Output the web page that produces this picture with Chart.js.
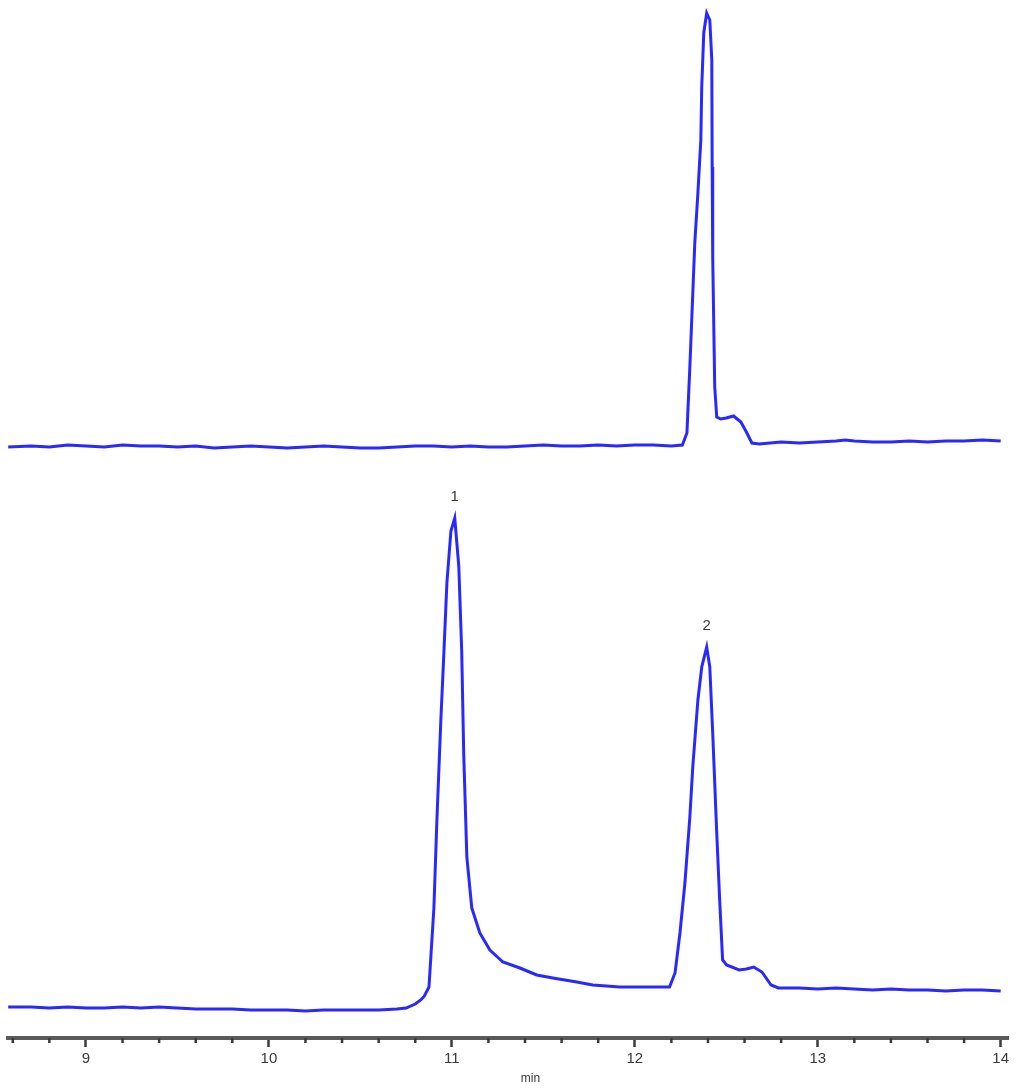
<!DOCTYPE html>
<html>
<head>
<meta charset="utf-8">
<script src="https://cdn.jsdelivr.net/npm/chart.js@4"></script>
<style>
  html, body { margin: 0; padding: 0; background: #ffffff; }
  #chromato { display: block; }
</style>
</head>
<body>
<canvas id="chromato" width="1024" height="1091"></canvas>
<script>
// Retention time (min) and detector response, two stacked runs
const topTimes = [8.575, 8.7, 8.8, 8.9, 9.0, 9.1, 9.2, 9.3, 9.4, 9.5, 9.6, 9.7, 9.8, 9.9, 10.0, 10.1, 10.2, 10.3, 10.4, 10.5,
    10.6, 10.7, 10.8, 10.9, 11.0, 11.1, 11.2, 11.3, 11.4, 11.5, 11.6, 11.7, 11.8, 11.9, 12.0, 12.1, 12.2, 12.26,
    12.285, 12.301, 12.312, 12.328, 12.345, 12.361, 12.366, 12.377, 12.393, 12.41, 12.421, 12.423, 12.426, 12.437, 12.448,
    12.47, 12.5, 12.54, 12.58, 12.61, 12.64, 12.68, 12.8, 12.9, 13.0, 13.1, 13.15, 13.2, 13.3, 13.4, 13.5, 13.6, 13.7, 13.8, 13.9, 14.0];
const topSignal = [58.9, 59.0, 58.9, 59.1, 59.0, 58.9, 59.1, 59.0, 59.0, 58.9, 59.0, 58.8, 58.9, 59.0, 58.9, 58.8, 58.9, 59.0, 58.9, 58.8,
    58.8, 58.9, 59.0, 59.0, 58.9, 59.0, 58.9, 58.9, 59.0, 59.1, 59.0, 59.0, 59.1, 59.0, 59.1, 59.1, 59.0, 59.1,
    60.3, 66.9, 71.9, 79.3, 84.3, 89.6, 94.9, 100.3, 102.3, 101.6, 97.6, 86.9, 77.9, 64.9, 61.9,
    61.7, 61.8, 62.0, 61.4, 60.4, 59.3, 59.2, 59.4, 59.3, 59.4, 59.5, 59.6, 59.5, 59.4, 59.4, 59.5, 59.4, 59.5, 59.5, 59.6, 59.5];

const bottomTimes = [8.575, 8.7, 8.8, 8.9, 9.0, 9.1, 9.2, 9.3, 9.4, 9.5, 9.6, 9.7, 9.8, 9.9, 10.0, 10.1, 10.2, 10.3, 10.4, 10.5,
    10.6, 10.7, 10.75, 10.8, 10.83, 10.85, 10.875, 10.902, 10.918, 10.94, 10.957, 10.973, 10.995, 11.016, 11.038, 11.054,
    11.065, 11.082, 11.109, 11.153, 11.208, 11.279, 11.372, 11.464, 11.552, 11.683, 11.77, 11.918, 12.0, 12.1, 12.19,
    12.22, 12.247, 12.274, 12.301, 12.317, 12.345, 12.366, 12.393, 12.41, 12.426, 12.448, 12.464, 12.48, 12.502,
    12.57, 12.61, 12.65, 12.695, 12.745, 12.785, 12.9, 13.0, 13.1, 13.2, 13.3, 13.4, 13.5, 13.6, 13.7, 13.8, 13.9, 14.0];
const bottomSignal = [2.9, 2.9, 2.8, 2.9, 2.8, 2.8, 2.9, 2.8, 2.9, 2.8, 2.7, 2.7, 2.7, 2.6, 2.6, 2.6, 2.5, 2.6, 2.6, 2.6,
    2.6, 2.7, 2.8, 3.2, 3.6, 4.0, 4.9, 12.8, 21.4, 31.6, 38.5, 45.3, 50.5, 51.8, 47.0, 38.5,
    28.2, 17.9, 12.8, 10.3, 8.6, 7.4, 6.8, 6.1, 5.8, 5.4, 5.1, 4.9, 4.9, 4.9, 4.9,
    6.3, 10.3, 15.3, 21.9, 26.9, 33.6, 36.9, 38.9, 36.9, 30.3, 20.3, 13.6, 7.6, 7.1,
    6.6, 6.7, 6.9, 6.4, 5.1, 4.8, 4.8, 4.7, 4.8, 4.7, 4.6, 4.7, 4.6, 4.6, 4.5, 4.6, 4.6, 4.5];

const majorTicks = [9, 10, 11, 12, 13, 14];
const peakLabels = ['1', '2'];
const peakTimes = [11.016, 12.393];
const peakHeights = [51.8, 38.9];

const lineColor = 'rgb(40, 40, 255)';
const inkColor = '#3a3a3a';
const tickFont = "'Liberation Sans Narrow', 'Liberation Sans', sans-serif";

const toPoints = (xs, ys) => xs.map((x, i) => ({ x: x, y: ys[i] }));
const isMajor = (v) => majorTicks.some(m => Math.abs(m - v) < 1e-6);

// Short minor ticks every 0.2 min, peak numbers and the "min" unit
const chromatoDecor = {
    id: 'chromatoDecor',
    afterDraw(chart) {
        const ctx = chart.ctx;
        const xs = chart.scales.x;
        const ys = chart.scales.y;
        ctx.save();
        ctx.strokeStyle = inkColor;
        ctx.lineWidth = 2.5;
        xs.ticks.forEach(t => {
            if (isMajor(t.value)) return;
            const px = xs.getPixelForValue(t.value);
            ctx.beginPath();
            ctx.moveTo(px, xs.top);
            ctx.lineTo(px, xs.top + 5);
            ctx.stroke();
        });
        ctx.fillStyle = inkColor;
        ctx.textAlign = 'center';
        ctx.textBaseline = 'bottom';
        ctx.font = `15px ${tickFont}`;
        peakLabels.forEach((lab, i) => {
            ctx.fillText(lab, xs.getPixelForValue(peakTimes[i]), ys.getPixelForValue(peakHeights[i]) - 14);
        });
        ctx.font = `12px ${tickFont}`;
        ctx.textBaseline = 'middle';
        ctx.fillText('min', xs.getPixelForValue(11.43), xs.bottom + 8);
        ctx.restore();
    }
};

new Chart(document.getElementById('chromato').getContext('2d'), {
    type: 'line',
    data: {
        datasets: [
            {
                label: 'run A',
                data: toPoints(topTimes, topSignal),
                borderColor: lineColor,
                borderWidth: 3,
                pointRadius: 0,
                tension: 0,
                fill: false
            },
            {
                label: 'run B',
                data: toPoints(bottomTimes, bottomSignal),
                borderColor: lineColor,
                borderWidth: 3,
                pointRadius: 0,
                tension: 0,
                fill: false
            }
        ]
    },
    options: {
        responsive: false,
        animation: false,
        layout: {
            padding: { left: 8, right: 16, top: 5, bottom: 20 }
        },
        plugins: {
            legend: { display: false },
            tooltip: { enabled: false }
        },
        scales: {
            x: {
                type: 'linear',
                min: 8.574,
                max: 14.04,
                afterBuildTicks: (axis) => {
                    const list = [];
                    for (let k = 0; k <= 27; k++) {
                        list.push({ value: Math.round((8.6 + k * 0.2) * 10) / 10 });
                    }
                    axis.ticks = list;
                },
                border: { display: true, color: '#5a5a5a', width: 4 },
                grid: {
                    display: true,
                    drawOnChartArea: false,
                    tickLength: 9,
                    tickWidth: 2.5,
                    tickColor: (c) => (c.tick && isMajor(c.tick.value)) ? inkColor : 'rgba(0,0,0,0)'
                },
                ticks: {
                    autoSkip: false,
                    maxRotation: 0,
                    padding: 3,
                    color: inkColor,
                    font: { family: tickFont, size: 15 },
                    callback: (v) => isMajor(v) ? String(Math.round(v)) : ''
                }
            },
            y: {
                display: false,
                min: -0.2,
                max: 103.1
            }
        }
    },
    plugins: [chromatoDecor]
});
</script>
</body>
</html>
